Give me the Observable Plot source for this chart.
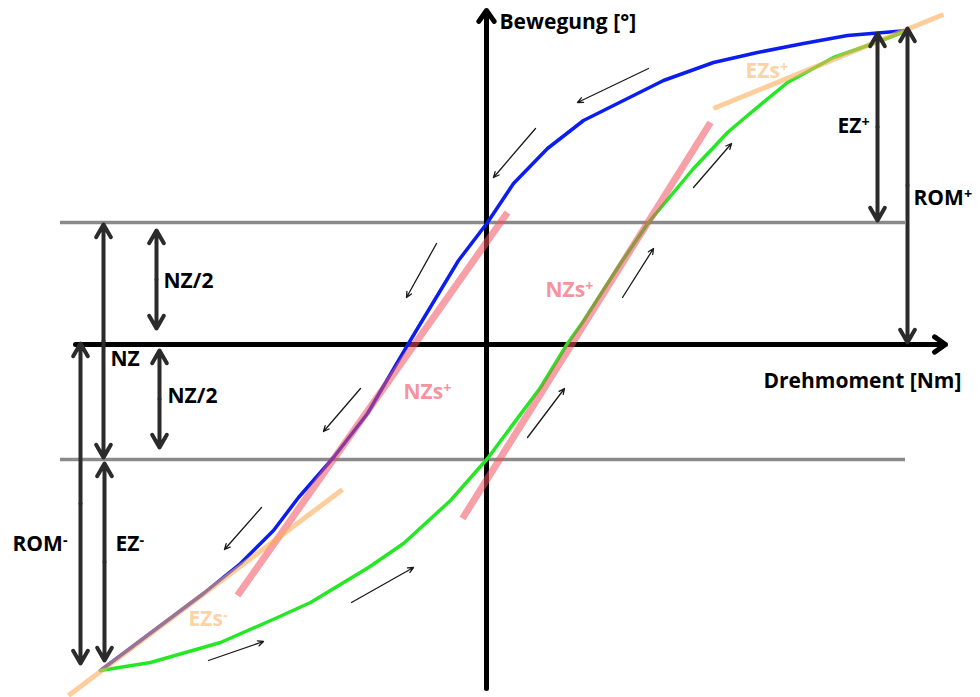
<!DOCTYPE html>
<html>
<head>
<meta charset="utf-8">
<script src="https://cdn.jsdelivr.net/npm/d3@7"></script>
<script src="https://cdn.jsdelivr.net/npm/@observablehq/plot@0.6"></script>
<style>
  html, body { margin: 0; padding: 0; background: #fff; }
  #chart svg { display: block; }
</style>
</head>
<body>
<div id="chart"></div>
<script>
// Hysteresis loop: torque (Drehmoment) against motion (Bewegung), origin at the axis cross.

// Unloading branch, from the positive end back to the negative end
const unloadingX = [421, 361, 317, 271, 227, 177, 137, 97, 61, 27, 1, -28, -66, -78, -119, -153, -188, -213, -246, -283, -386];
const unloadingY = [314, 309, 301, 292, 282, 264, 244, 224, 196, 161, 122, 84, 21, 1, -69, -113, -153, -186, -219, -249, -326];

// Loading branch, from the negative end up to the positive end
const loadingX = [-386, -336, -266, -209, -176, -118, -83, -36, 1, 54, 81, 96, 134, 162, 207, 227, 241, 261, 301, 347, 387, 421];
const loadingY = [-326, -318, -298, -273, -258, -223, -199, -156, -114, -43, 1, 22, 81, 122, 176, 197, 212, 229, 262, 287, 301, 314];

// Neutral-zone stiffness tangents (NZs) and elastic-zone stiffness tangents (EZs)
const nzsTangents = [
  {x1: -249, y1: -251, x2: 21, y2: 132},
  {x1: -24, y1: -174, x2: 224, y2: 222}
];
const ezsTangents = [
  {x1: -418, y1: -351, x2: -144, y2: -145},
  {x1: 227, y1: 236, x2: 457, y2: 330}
];

// Neutral-zone limits
const nzLimits = [122, -115];
const nzLimitSpan = [-426, 419];

// Dimension arrows: label, x position, the two ends
const dimNames = ["NZ", "NZ/2 oben", "NZ/2 unten", "ROM-", "EZ-", "EZ+", "ROM+"];
const dimX = [-383, -330, -327, -406, -382, 391, 421];
const dimYTop = [120, 114, -6, 1, -119, 311, 316];
const dimYBottom = [-113, 16, -103, -319, -316, 124, 2];

// Direction-of-travel arrows along both branches
const flowFromX = [162, 49, -50, -126, -225, -278, -135, 41, 136, 207];
const flowFromY = [276, 216, 101, -44, -163, -316, -258, -93, 47, 157];
const flowToX = [91, 7, -80, -163, -262, -223, -73, 78, 167, 245];
const flowToY = [242, 167, 47, -87, -205, -297, -223, -44, 96, 201];

// Labels
const blackLabels = ["Bewegung [°]", "Drehmoment [Nm]", "NZ/2", "NZ/2", "NZ", "ROM⁻", "EZ⁻", "EZ⁺", "ROM⁺"];
const blackLabelX = [13, 277, -323, -319, -376, -474, -371, 351, 427];
const blackLabelY = [316, -43, 57, -58, -21, -206, -206, 212, 140];
const nzsLabels = ["NZs⁺", "NZs⁺"];
const nzsLabelX = [59, -83];
const nzsLabelY = [48, -54];
const ezsLabels = ["EZs⁺", "EZs⁻"];
const ezsLabelX = [259, -298];
const ezsLabelY = [267, -281];

const unloading = unloadingX.map((x, i) => ({x, y: unloadingY[i]}));
const loading = loadingX.map((x, i) => ({x, y: loadingY[i]}));
const dims = dimNames.map((name, i) => ({name, x: dimX[i], top: dimYTop[i], bottom: dimYBottom[i], mid: (dimYTop[i] + dimYBottom[i]) / 2}));
const flows = flowFromX.map((x1, i) => ({x1, y1: flowFromY[i], x2: flowToX[i], y2: flowToY[i]}));
const pick = (labels, xs, ys) => labels.map((text, i) => ({text, x: xs[i], y: ys[i]}));

const ink = "#2b2b2b";
const labelSize = 21;

const chart = Plot.plot({
  width: 980,
  height: 697,
  margin: 0,
  style: {fontFamily: "'Open Sans', 'Noto Sans', sans-serif", background: "#fff"},
  x: {domain: [-486, 494], axis: null},
  y: {domain: [-353, 344], axis: null},
  marks: [
    // neutral-zone limits
    Plot.ruleY(nzLimits, {x1: nzLimitSpan[0], x2: nzLimitSpan[1], stroke: "#8a8a8a", strokeWidth: 3.5}),
    // coordinate axes
    Plot.arrow([{x1: -411, y1: 0, x2: 459, y2: 0}], {x1: "x1", y1: "y1", x2: "x2", y2: "y2", stroke: "#000", strokeWidth: 5, headLength: 4, headAngle: 70}),
    Plot.arrow([{x1: 0, y1: -344, x2: 0, y2: 334}], {x1: "x1", y1: "y1", x2: "x2", y2: "y2", stroke: "#000", strokeWidth: 5, headLength: 4, headAngle: 70}),
    // branches
    Plot.line(unloading, {x: "x", y: "y", stroke: "#0b1eee", strokeWidth: 3.5, curve: "linear"}),
    Plot.line(loading, {x: "x", y: "y", stroke: "#24e824", strokeWidth: 3.5, curve: "linear"}),
    // tangents
    Plot.link(nzsTangents, {x1: "x1", y1: "y1", x2: "x2", y2: "y2", stroke: "#f2525f", strokeOpacity: 0.55, strokeWidth: 7}),
    Plot.link(ezsTangents, {x1: "x1", y1: "y1", x2: "x2", y2: "y2", stroke: "#fcac58", strokeOpacity: 0.6, strokeWidth: 5}),
    // dimension arrows, each drawn as two heads out from the middle
    Plot.arrow(dims, {x1: "x", y1: "mid", x2: "x", y2: "top", stroke: ink, strokeWidth: 4, headLength: 5.5, headAngle: 60}),
    Plot.arrow(dims, {x1: "x", y1: "mid", x2: "x", y2: "bottom", stroke: ink, strokeWidth: 4, headLength: 5.5, headAngle: 60}),
    // direction of travel
    Plot.arrow(flows, {x1: "x1", y1: "y1", x2: "x2", y2: "y2", stroke: "#1a1a1a", strokeWidth: 1.3, headLength: 7, headAngle: 50}),
    // labels
    Plot.text(pick(blackLabels, blackLabelX, blackLabelY), {x: "x", y: "y", text: "text", textAnchor: "start", lineAnchor: "bottom", fontSize: labelSize, fontWeight: "bold", fill: "#000"}),
    Plot.text(pick(nzsLabels, nzsLabelX, nzsLabelY), {x: "x", y: "y", text: "text", textAnchor: "start", lineAnchor: "bottom", fontSize: labelSize, fontWeight: "bold", fill: "#f5939e"}),
    Plot.text(pick(ezsLabels, ezsLabelX, ezsLabelY), {x: "x", y: "y", text: "text", textAnchor: "start", lineAnchor: "bottom", fontSize: labelSize, fontWeight: "bold", fill: "#fdd2a4"})
  ]
});

// Set trailing ⁺ / ⁻ as raised, smaller signs so they read as superscripts.
const superSigns = {"⁺": "+", "⁻": "-"};
d3.select(chart).selectAll("text").each(function () {
  const node = d3.select(this);
  const content = node.text();
  const last = content.slice(-1);
  if (!(last in superSigns)) return;
  node.text(content.slice(0, -1));
  node.append("tspan")
    .attr("dy", "-0.42em")
    .attr("font-size", "0.68em")
    .text(superSigns[last]);
});

document.getElementById("chart").appendChild(chart);
</script>
</body>
</html>
